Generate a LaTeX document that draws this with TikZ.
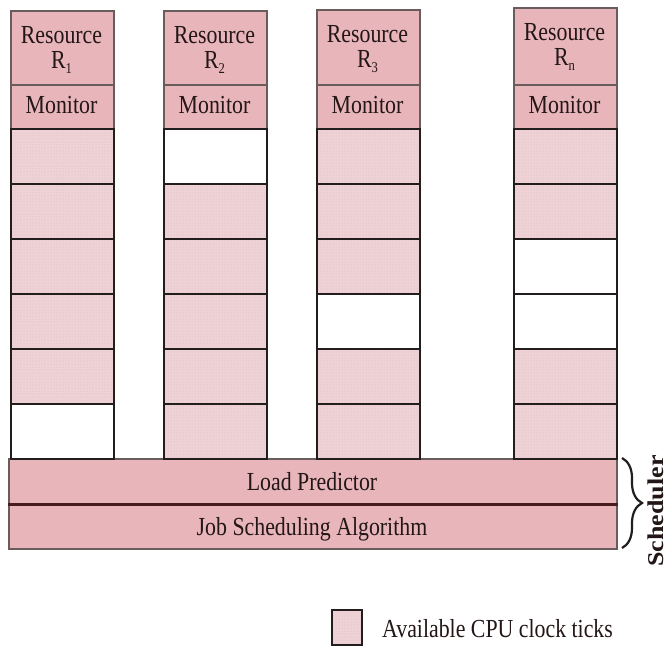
\documentclass[tikz,border=0pt]{standalone}
\usepackage{fontspec}
\setmainfont{Liberation Serif}[FakeStretch=0.84]
\newfontfamily\schedfont{Liberation Serif}
\usetikzlibrary{patterns,decorations.pathreplacing}
\definecolor{hdr}{RGB}{232,181,186}
\definecolor{cellpink}{RGB}{238,210,214}
\definecolor{dotc}{RGB}{218,184,189}
\definecolor{hdrframe}{RGB}{105,92,92}
\definecolor{cellline}{RGB}{35,30,30}
\definecolor{divline}{RGB}{72,28,28}
\definecolor{txt}{RGB}{35,22,22}
\begin{document}
\begin{tikzpicture}[x=1pt,y=-1pt,
  lbl/.style={font=\fontsize{26}{29}\selectfont, text=txt, inner sep=0pt},
  hdrbox/.style={draw=hdrframe, fill=hdr, line width=1.8pt, anchor=north west,
    minimum width=103pt, inner sep=0pt},
  pinkcell/.style={preaction={fill=cellpink}, pattern=dots, pattern color=dotc},
  whitecell/.style={fill=white},
  cellfill/.code={\ifnum#1=1 \pgfkeysalso{pinkcell}\else\pgfkeysalso{whitecell}\fi},
  cellbox/.style={draw=cellline, line width=2pt, anchor=north west,
    minimum width=103pt, minimum height=55pt, inner sep=0pt},
  barbox/.style={draw=hdrframe, fill=hdr, line width=1.8pt, anchor=north west,
    minimum width=608pt, minimum height=45pt, inner sep=0pt}
]
\useasboundingbox (0,0) rectangle (671,646);
\fill[white] (0,0) rectangle (671,646);

% scheduler bars
\node[barbox] (lp) at (8,458) {};
\node[barbox] (jsa) at (8,503) {};
\draw[divline, line width=3pt] (lp.south west) -- (lp.south east);
\node[lbl, anchor=base] (lpt) at (312,490) {Load Predictor};
\node[lbl, anchor=base] (jsat) at (312,535) {Job Scheduling Algorithm};

% columns
\foreach \n/\x/\top/\sub/\flags in {1/10/10/1/{1,1,1,1,1,0}, 2/163/10/2/{0,1,1,1,1,1},
    3/316/9/3/{1,1,1,0,1,1}, 4/513/7/n/{1,1,0,0,1,1}} {
  \node[hdrbox, minimum height={84-\top}] (res\n) at (\x,\top) {};
  \node[hdrbox, minimum height=44pt] (mon\n) at (\x,84) {};
  \node[lbl, anchor=base] (rest\n) at ({\x+51.5},{\top+33}) {Resource};
  \node[lbl, anchor=base] (rsub\n) at ({\x+51.5},{\top+58}) {R\raisebox{-0.22em}{\fontsize{15}{15}\selectfont\sub}};
  \node[lbl, anchor=base] (mont\n) at ({\x+51.5},113) {Monitor};
  \foreach \f [count=\r] in \flags {
    \node[cellbox, cellfill=\f] (c\n-\r) at (\x,{128+(\r-1)*55}) {};
  }
}

% brace and label
\coordinate (bt) at (622,458);
\coordinate (bb) at (622,548);
\draw[decorate, decoration={brace, amplitude=20pt}, line width=2.2pt, cellline] (bt) -- (bb);
\node[font=\schedfont\bfseries\fontsize{26}{29}\selectfont, text=txt, inner sep=0pt,
  rotate=90, yscale=0.87] (sched) at (656,511) {Scheduler};

% legend
\node[cellbox, pinkcell, minimum width=30pt, minimum height=35pt] (leg) at (331,609) {};
\node[lbl, anchor=base west] (legt) at (382,637) {Available CPU clock ticks};
\end{tikzpicture}
\end{document}
